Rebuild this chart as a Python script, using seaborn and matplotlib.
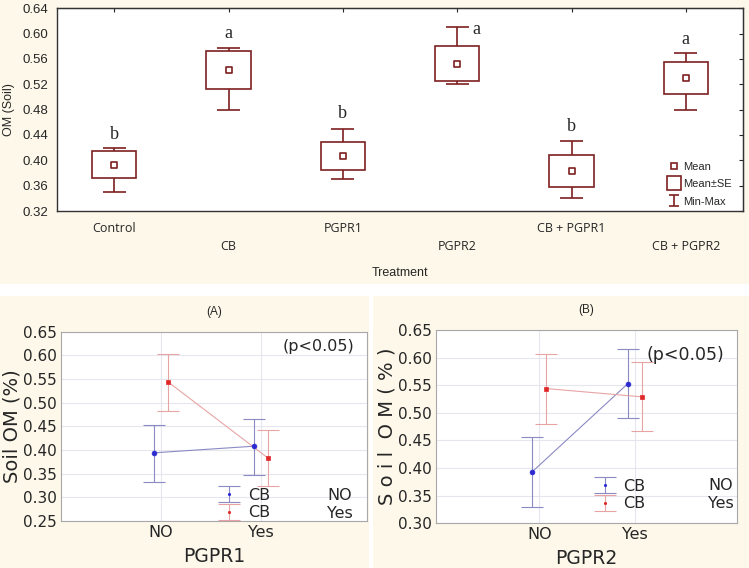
import numpy as np
import pandas as pd
import matplotlib
matplotlib.use("Agg")
import matplotlib.pyplot as plt
from matplotlib.patches import Rectangle
from matplotlib.lines import Line2D
import seaborn as sns

# top panel: treatment summary (mean, mean±SE, min-max)
treatments = ["Control", "CB", "PGPR1", "PGPR2", "CB + PGPR1", "CB + PGPR2"]
om_mean = [0.392, 0.542, 0.407, 0.552, 0.383, 0.530]
om_se_lo = [0.372, 0.512, 0.384, 0.525, 0.358, 0.504]
om_se_hi = [0.414, 0.573, 0.429, 0.580, 0.408, 0.555]
om_min = [0.350, 0.480, 0.370, 0.520, 0.340, 0.480]
om_max = [0.420, 0.578, 0.450, 0.610, 0.430, 0.570]
letters = ["b", "a", "b", "a", "b", "a"]
letter_y = [0.440, 0.601, 0.474, 0.607, 0.453, 0.591]

# bottom panels: interaction plots
levels = ["NO", "Yes"]
cb_groups = ["NO", "Yes"]
a_mean = {"NO": [0.394, 0.408], "Yes": [0.544, 0.383]}
a_lo = {"NO": [0.333, 0.347], "Yes": [0.482, 0.324]}
a_hi = {"NO": [0.452, 0.465], "Yes": [0.603, 0.443]}
b_mean = {"NO": [0.393, 0.553], "Yes": [0.544, 0.529]}
b_lo = {"NO": [0.330, 0.490], "Yes": [0.480, 0.467]}
b_hi = {"NO": [0.456, 0.615], "Yes": [0.606, 0.592]}

CREAM = "#fdf8ea"
DARKRED = "#7e2020"
line_col = {"NO": "#8a8ac4", "Yes": "#e8a4a4"}
mark_col = {"NO": "#2a2ad0", "Yes": "#e02828"}
mark_shape = {"NO": "o", "Yes": "s"}
offset = {"NO": -0.075, "Yes": 0.07}

sns.set_style("white")
plt.rcParams["font.family"] = ["Liberation Sans", "DejaVu Sans"]

fig = plt.figure(figsize=(7.49, 5.68), dpi=100, facecolor="white")
W, H = 749, 568


def fr(x0, y0, x1, y1):
    return [x0 / W, 1 - y1 / H, (x1 - x0) / W, (y1 - y0) / H]


# cream panel backgrounds
for x0, y0, x1, y1 in [(0, 0, 749, 284), (0, 296, 369, 568), (373, 296, 749, 568)]:
    r = fr(x0, y0, x1, y1)
    fig.patches.append(Rectangle((r[0], r[1]), r[2], r[3], transform=fig.transFigure,
                                 facecolor=CREAM, edgecolor="none", zorder=-5))

# ---------------- top panel ----------------
ax = fig.add_axes(fr(57, 8.3, 743, 211))
ax.set_facecolor("white")
xpos = np.arange(len(treatments)) + 0.5
ax.bar(xpos, np.array(om_se_hi) - np.array(om_se_lo), bottom=om_se_lo, width=0.39,
       fill=False, edgecolor=DARKRED, linewidth=1.2, zorder=3)
ax.vlines(xpos, om_min, om_se_lo, color=DARKRED, lw=1.2, zorder=3)
ax.vlines(xpos, om_se_hi, om_max, color=DARKRED, lw=1.2, zorder=3)
ax.hlines(om_min, xpos - 0.1, xpos + 0.1, color=DARKRED, lw=1.2, zorder=3)
ax.hlines(om_max, xpos - 0.1, xpos + 0.1, color=DARKRED, lw=1.2, zorder=3)
top_df = pd.DataFrame({"x": xpos, "mean": om_mean})
sns.scatterplot(data=top_df, x="x", y="mean", marker="s", s=22, facecolor="white",
                edgecolor=DARKRED, linewidth=1.2, ax=ax, zorder=4)
for i, (t, y) in enumerate(zip(letters, letter_y)):
    dx = 0.17 if i == 3 else 0
    ax.text(xpos[i] + dx, y, t, ha="center", va="center", fontsize=13,
            family="Liberation Serif")
ax.set_xlim(0, 6)
ax.set_ylim(0.32, 0.64)
ax.set_yticks(np.arange(0.32, 0.6401, 0.04))
ax.set_yticklabels([f"{v:.2f}" for v in np.arange(0.32, 0.6401, 0.04)], fontsize=9.5)
ax.set_xticks(xpos)
ax.set_xticklabels([t if i % 2 == 0 else "\n" + t for i, t in enumerate(treatments)],
                   fontsize=9, linespacing=1.45, family="Open Sans")
ax.tick_params(axis="x", direction="in", length=3, pad=8)
ax.tick_params(axis="y", direction="out", length=4, pad=2)
ax.set_xlabel("Treatment", fontsize=9, labelpad=10)
ax.set_ylabel("OM (Soil)", fontsize=9, labelpad=6)
for s in ax.spines.values():
    s.set_color("#333333")
    s.set_linewidth(1.0)
sec_y = ax.secondary_yaxis("right")
sec_y.set_yticks(np.arange(0.32, 0.6401, 0.04))
sec_y.tick_params(direction="in", length=3, labelright=False)
sec_x = ax.secondary_xaxis("top")
sec_x.set_xticks(xpos)
sec_x.tick_params(direction="in", length=3, labeltop=False)

eb_proxy = ax.errorbar([np.nan], [np.nan], yerr=[0.01], fmt="none", ecolor=DARKRED,
                       capsize=3.5, elinewidth=1.2, capthick=1.2)
h_mean = Line2D([], [], marker="s", ms=4, mfc="white", mec=DARKRED, mew=1.2, ls="")
h_se = Line2D([], [], marker="s", ms=9.5, mfc="white", mec=DARKRED, mew=1.2, ls="")
ax.legend(handles=[h_mean, h_se, eb_proxy], labels=["Mean", "Mean±SE", "Min-Max"],
          loc="lower left", bbox_to_anchor=(0.885, 0.0), frameon=False, fontsize=8,
          handlelength=1.0, handletextpad=0.3, labelspacing=0.65, borderaxespad=0)


# ---------------- bottom panels ----------------
def interaction(rect, means, lo, hi, ylim, yticks, ylabel, xlabel, title, ptxt, pfs,
                ptxt_xy, leg_anchor, txt_x, txt_y, xlim):
    ax = fig.add_axes(rect)
    ax.set_facecolor("white")
    rows = []
    for g in cb_groups:
        for i, lev in enumerate(levels):
            rows.append({"x": i + offset[g], "y": means[g][i], "CB": g,
                         "lo": lo[g][i], "hi": hi[g][i]})
    df = pd.DataFrame(rows)
    sns.lineplot(data=df, x="x", y="y", hue="CB", palette=line_col, lw=0.8,
                 legend=False, ax=ax, zorder=3)
    handles = []
    for g in cb_groups:
        d = df[df["CB"] == g]
        ax.errorbar(d["x"], d["y"], yerr=[d["y"] - d["lo"], d["hi"] - d["y"]], fmt="none",
                    ecolor=line_col[g], elinewidth=0.8, capsize=8, capthick=0.8, zorder=2)
        sns.scatterplot(data=d, x="x", y="y", marker=mark_shape[g], color=mark_col[g],
                        s=12, edgecolor=mark_col[g], linewidth=0.5, ax=ax, zorder=4,
                        legend=False)
        handles.append(ax.errorbar([np.nan], [np.nan], yerr=[0.01], fmt=".", ms=2.5,
                                   color=line_col[g], mfc=mark_col[g], mec=mark_col[g],
                                   ecolor=line_col[g], elinewidth=0.8, capsize=8,
                                   capthick=0.8, lw=0.8))
    ax.set_xlim(*xlim)
    ax.set_ylim(*ylim)
    ax.set_xticks(range(len(levels)))
    ax.set_xticklabels(levels, fontsize=11.5, family="DejaVu Sans")
    ax.set_yticks(yticks)
    ax.set_yticklabels([f"{v:.2f}" for v in yticks], fontsize=11, family="DejaVu Sans")
    ax.grid(True, color="#e6e6ee", lw=0.8)
    ax.tick_params(length=0, pad=3)
    for s in ax.spines.values():
        s.set_color("#a8a8a8")
        s.set_linewidth(0.8)
    ax.set_xlabel(xlabel, fontsize=13.5, family="DejaVu Sans", labelpad=5)
    ax.set_ylabel(ylabel, fontsize=14, family="DejaVu Sans", labelpad=1)
    ax.set_title(title, fontsize=8.5, pad=12)
    ax.text(ptxt_xy[0], ptxt_xy[1], ptxt, transform=ax.transAxes, ha="right", va="center",
            fontsize=pfs, family="DejaVu Sans")
    ax.legend(handles=handles, labels=["CB", "CB"], loc="center left",
              bbox_to_anchor=leg_anchor, frameon=False,
              handlelength=1.5, handletextpad=0.4, labelspacing=0.15, borderaxespad=0,
              prop={"family": "DejaVu Sans", "size": 11.5})
    for lab, ty in zip(["NO", "Yes"], txt_y):
        ax.text(txt_x, ty, lab, transform=ax.transAxes, ha="left", va="center",
                fontsize=11.5, family="DejaVu Sans")
    return ax


interaction(fr(61, 331.7, 367, 521), a_mean, a_lo, a_hi, (0.25, 0.65),
            np.arange(0.25, 0.6501, 0.05), "Soil OM (%)", "PGPR1", "(A)", "(p<0.05)", 11.5,
            (0.96, 0.92), (0.49, 0.09), 0.869, [0.134, 0.041], (-1.0, 2.06))
interaction(fr(435.7, 330, 736.7, 523.3), b_mean, b_lo, b_hi, (0.30, 0.65),
            np.arange(0.30, 0.6501, 0.05), "S o i l  O M ( % )", "PGPR2", "(B)", "(p<0.05)",
            12.5, (0.96, 0.87), (0.502, 0.145), 0.905, [0.197, 0.101], (-1.08, 2.06))

fig.savefig("out.png", dpi=100, facecolor="white")
